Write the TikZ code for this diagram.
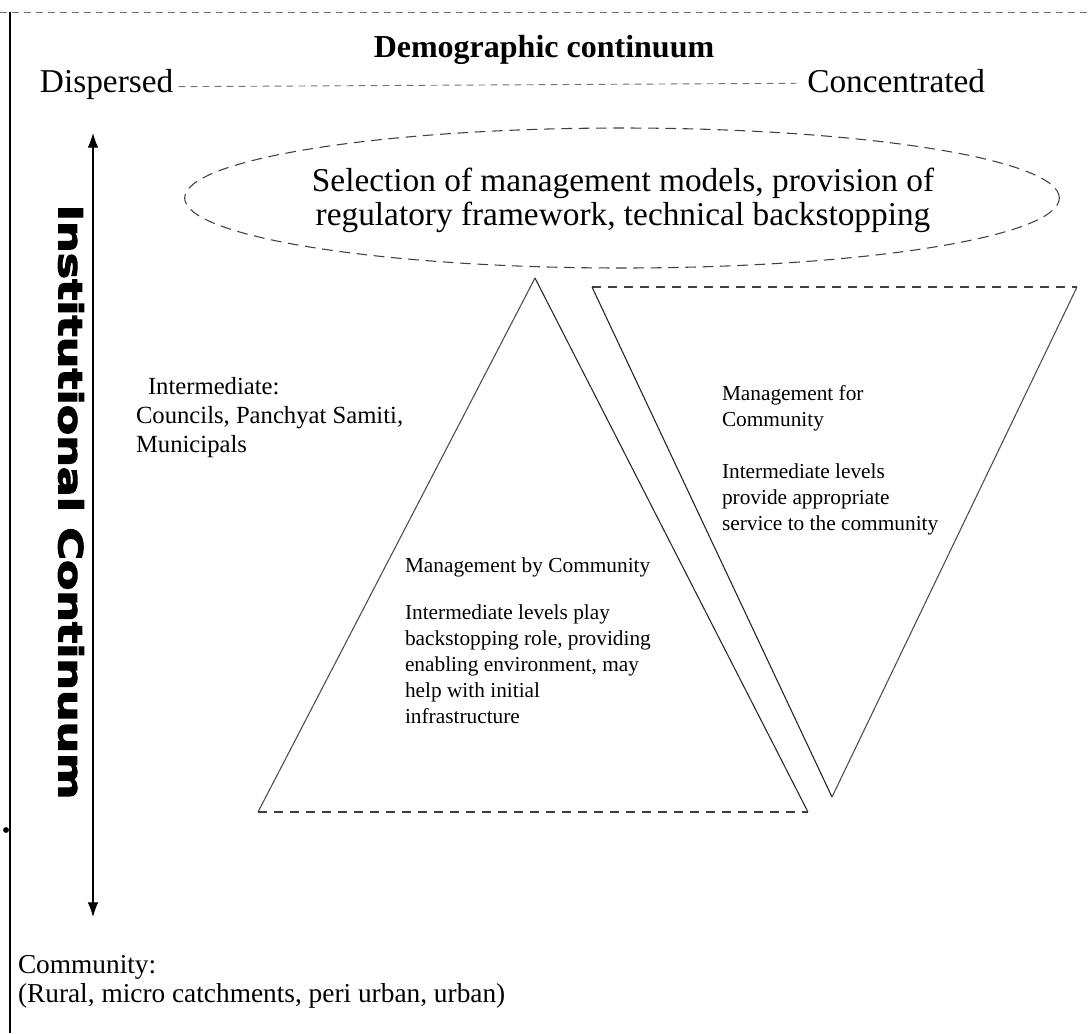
\documentclass[tikz,border=0pt]{standalone}
\usepackage{fontspec}
\setmainfont{Liberation Serif}
\newfontfamily\heavysans[BoldFeatures={FakeBold=3}]{DejaVu Sans}
\usetikzlibrary{arrows.meta,shapes.geometric}
\begin{document}
\begin{tikzpicture}[x=0.75pt,y=-0.75pt,
  lbl/.style={inner sep=0pt, outer sep=0pt, align=left},
  solidedge/.style={draw=black!85, line width=0.8pt},
  dashedge/.style={draw=black!75, line width=0.8pt, dash pattern=on 7pt off 5pt},
  faintdash/.style={draw=black!55, line width=0.7pt, dash pattern=on 5pt off 4pt},
  frameline/.style={draw=black, line width=1.4pt},
  axisarrow/.style={draw=black, line width=0.9pt, {Latex[length=11pt,width=8pt]}-{Latex[length=11pt,width=8pt]}}
]
\useasboundingbox[fill=white] (0,0) rectangle (1090,1033);

% frame
\coordinate (ftl) at (10,12);
\coordinate (fbl) at (10,1033);
\coordinate (ftr) at (1090,12);
\coordinate (ftl0) at (0,12);
\draw[frameline] (ftl) -- (fbl);
\draw[faintdash] (ftl0) -- (ftr);
\fill[black] (6,830) circle (2.2pt);

% demographic continuum
\node[lbl, anchor=base, font=\fontsize{24}{28}\selectfont\bfseries] (title) at (544,57) {Demographic continuum};
\node[lbl, anchor=base west, font=\fontsize{25}{28}\selectfont] (disp) at (40,92) {Dispersed};
\node[lbl, anchor=base east, font=\fontsize{25}{28}\selectfont] (conc) at (985,92) {Concentrated};
\draw[faintdash] ([xshift=4pt,yshift=-2pt]disp.east) -- ([xshift=-8pt,yshift=-2pt]conc.west);

% institutional continuum axis
\coordinate (atop) at (93,133);
\coordinate (abot) at (93,917);
\draw[axisarrow] (atop) -- (abot);
\node[lbl, rotate=-90] (inst) at (71,502) {\resizebox{446pt}{19pt}{\heavysans\bfseries Institutional Continuum}};

% ellipse
\node[ellipse, draw=black!75, line width=0.8pt, dash pattern=on 8pt off 5pt, minimum width=656pt, minimum height=105pt, inner sep=0pt] (ell) at (622,198) {};
\node[lbl, align=center, font=\fontsize{25}{25.5}\selectfont] (elltext) at (623,200) {Selection of management models, provision of\\regulatory framework, technical backstopping};

% upward triangle: management by community
\coordinate (upA) at (535,278);
\coordinate (upL) at (258,812);
\coordinate (upR) at (808,812);
\draw[solidedge, draw=black!70] (upA) -- (upL);
\draw[solidedge] (upA) -- (upR);
\draw[dashedge] (upL) -- (upR);

% downward triangle: management for community
\coordinate (dnL) at (592,287);
\coordinate (dnR) at (1077,287);
\coordinate (dnB) at (832,797);
\draw[dashedge] (dnL) -- (dnR);
\draw[solidedge] (dnL) -- (dnB);
\draw[solidedge, draw=black!70] (dnR) -- (dnB);

% labels
\node[lbl, anchor=north west, font=\fontsize{18.5}{22}\selectfont] (interm) at (136,377)
  {\hspace*{9pt}Intermediate:\\Councils, Panchyat Samiti,\\Municipals};

\node[lbl, anchor=north west, font=\fontsize{16}{19.5}\selectfont] (mfor) at (722,385)
  {Management for\\Community\\[19.5pt]Intermediate levels\\provide appropriate\\service to the community};

\node[lbl, anchor=north west, font=\fontsize{16}{19.5}\selectfont] (mby) at (405,558)
  {Management by Community\\[15.5pt]Intermediate levels play\\backstopping role, providing\\enabling environment, may\\help with initial\\infrastructure};

\node[lbl, anchor=north west, font=\fontsize{20.5}{22}\selectfont] (comm) at (18,955)
  {Community:\\(Rural, micro catchments, peri urban, urban)};
\end{tikzpicture}
\end{document}
